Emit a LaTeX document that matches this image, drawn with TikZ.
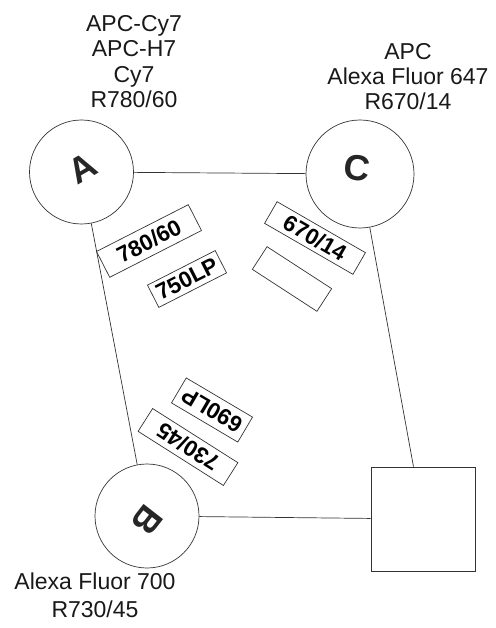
\documentclass[tikz,border=0pt]{standalone}
\usepackage{fontspec}
\setmainfont{Liberation Sans}
\begin{document}
\begin{tikzpicture}[x=1pt,y=-1pt,
  ln/.style={draw=black!80,line width=0.7pt},
  ring/.style={ln,circle,minimum size=104pt,inner sep=0pt},
  filt/.style={ln,rectangle,inner sep=0pt,font=\fontsize{22.5}{24}\selectfont\bfseries},
  lbl/.style={inner sep=0pt,align=center,text=black!90},
  big/.style={font=\fontsize{36}{40}\selectfont\bfseries,text=black!85}]
\useasboundingbox (0,0) rectangle (495,628);
\node[ring] (A) at (81.5,172) {};
\node[ring,minimum size=108pt] (C) at (360,174) {};
\node[ring] (B) at (147,516) {};
\node[ln,rectangle,minimum size=104pt,inner sep=0pt] (D) at (423,519) {};
\node[big,rotate=30] (la) at (83,168) {A};
\node[big,rotate=-8] (lc) at (357,168) {C};
\node[big,rotate=232] (lb) at (147,520) {B};
\draw[ln] (A) -- (C);
\draw[ln] (A) -- (B);
\draw[ln] (B) -- (D);
\draw[ln] (C) -- (D);
\node[filt,minimum width=103pt,minimum height=29pt,rotate=27] (f1) at (149,241) {780/60};
\node[filt,minimum width=76pt,minimum height=25pt,rotate=27] (f2) at (187,279) {750LP};
\node[filt,minimum width=102pt,minimum height=25pt,rotate=-30] (f3) at (315,238) {670/14};
\node[filt,minimum width=77pt,minimum height=27pt,rotate=-33] (f4) at (292,279) {};
\node[filt,minimum width=77pt,minimum height=29pt,rotate=149.4] (f5) at (212,410) {690LP};
\node[filt,minimum width=101pt,minimum height=27pt,rotate=147.6] (f6) at (188,447) {730/45};
\node[lbl,anchor=north,font=\fontsize{23}{25.5}\selectfont] (ta) at (134,15) {APC-Cy7\\APC-H7\\Cy7\\R780/60};
\node[lbl,anchor=north,font=\fontsize{23}{25}\selectfont] (tc) at (408,43) {APC\\Alexa Fluor 647\\R670/14};
\node[lbl,anchor=north,font=\fontsize{23}{28}\selectfont] (tb) at (95,573) {Alexa Fluor 700\\R730/45};
\end{tikzpicture}
\end{document}
